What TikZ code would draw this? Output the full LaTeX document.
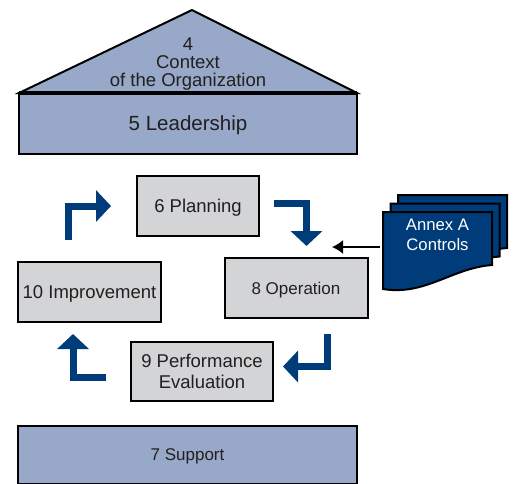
\documentclass[tikz,border=0pt]{standalone}
\usepackage{fontspec}
\setmainfont{Liberation Sans}
\usetikzlibrary{arrows.meta}

\definecolor{slate}{HTML}{97A8C8}
\definecolor{boxgray}{HTML}{D3D4D6}
\definecolor{navy}{HTML}{003B7A}
\definecolor{ink}{HTML}{231F20}

\tikzset{
  block/.style={draw=black, line width=2pt, fill=boxgray, text=ink,
    inner sep=0pt, align=center, text depth=0pt},
  band/.style={draw=black, line width=2pt, fill=slate, text=ink, inner sep=0pt,
    text depth=0pt},
  cycle/.style={draw=navy, line width=7pt, line join=miter, line cap=butt,
    -{Triangle[length=15pt,width=31pt]}},
  doc/.style={draw=black, line width=2pt, fill=navy, line join=miter},
  feed/.style={draw=black, line width=1.6pt,
    -{Latex[length=11pt,width=14pt]}},
  txt/.style={font=\fontsize{18.5}{21}\selectfont},
  smalltxt/.style={font=\fontsize{17}{18}\selectfont},
}

\begin{document}
\begin{tikzpicture}[x=1pt, y=-1pt]
  \clip (0,0) rectangle (513,483);
  \useasboundingbox (0,0) rectangle (513,483);

  % roof: context of the organization
  \path[fill=slate, draw=black, line width=2pt, line join=miter]
    (19,93) -- (192,10) -- (357,93) -- cycle;
  \node[text=ink, align=center, text depth=0pt,
        font=\fontsize{18.5}{18.3}\selectfont] (context) at (188,62)
    {4\\Context\\of the Organization};

  % leadership band
  \node[band, minimum width=338pt, minimum height=61pt,
        font=\fontsize{20.5}{20}\selectfont] (leadership) at (188,123.5) {5 Leadership};
  \draw[line width=3.2pt] (19,93) -- (357,93);

  % PDCA boxes
  \node[block, txt, minimum width=122pt, minimum height=60pt] (planning) at (198,206) {6 Planning};
  \node[block, smalltxt, minimum width=143pt, minimum height=60pt] (operation) at (296,288) {8 Operation};
  \node[block, txt, minimum width=142pt, minimum height=59pt] (performance) at (202,371.5)
    {9 Performance\\Evaluation};
  \node[block, txt, minimum width=143pt, minimum height=60pt] (improvement) at (89.5,292) {10 Improvement};

  % support band, running off the bottom edge
  \node[band, smalltxt, minimum width=339pt, minimum height=58pt] (support) at (187.5,455) {7 Support};

  % cycle arrows
  \coordinate (a1s) at (68,240);   \coordinate (a1b) at (68,206);   \coordinate (a1e) at (111,206);
  \coordinate (a2s) at (274,203.5);\coordinate (a2b) at (306.5,203.5);\coordinate (a2e) at (306.5,246);
  \coordinate (a3s) at (327,334);  \coordinate (a3b) at (327,366.5);\coordinate (a3e) at (283,366.5);
  \coordinate (a4s) at (106,377.5);\coordinate (a4b) at (73,377.5); \coordinate (a4e) at (73,334);
  \draw[cycle] (a1s) -- (a1b) -- (a1e);
  \draw[cycle] (a2s) -- (a2b) -- (a2e);
  \draw[cycle] (a3s) -- (a3b) -- (a3e);
  \draw[cycle] (a4s) -- (a4b) -- (a4e);

  % annex A controls: stack of three documents
  \foreach \dx/\dy in {15/-17, 7.5/-8.5, 0/0} {
    \begin{scope}[shift={(\dx,\dy)}]
      \path[doc] (383,212) -- (492,212) -- (492,265)
        .. controls (452,268) and (425,296) .. (383,289) -- cycle;
    \end{scope}
  }
  \node[text=white, align=center, font=\fontsize{16.7}{20}\selectfont] (annex) at (437.5,234.5)
    {Annex A\\Controls};

  % controls feeding into the cycle
  \coordinate (annexw) at (380,247);
  \coordinate (feedend) at (332,247);
  \draw[feed] (annexw) -- (feedend);
\end{tikzpicture}
\end{document}
